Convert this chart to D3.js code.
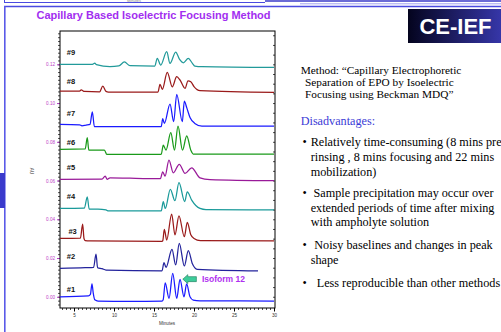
<!DOCTYPE html>
<html>
<head>
<meta charset="utf-8">
<script src="https://cdn.jsdelivr.net/npm/d3@7"></script>
<style>
  body { margin: 0; background: #fff; }
  svg { display: block; }
</style>
</head>
<body>
<svg id="chart" width="501" height="332"></svg>
<script>
// traces: [minutes, AU]
const trace1 = [[3.25,0.0000],[6.8,0.0004],[7.05,0.0012],[7.25,0.0067],[7.4,0.0020],[7.6,-0.0016],[8.0,-0.0022],[12,-0.0024],[16.0,-0.0022],[16.15,-0.0015],[16.4,0.0072],[16.88,-0.0008],[17.34,0.0121],[17.84,-0.0008],[18.25,0.0090],[18.75,0.0000],[19.08,0.0066],[19.5,0.0000],[19.9,-0.0017],[20.75,-0.0021],[30,-0.0022]];
const trace2 = [[3.25,0.0147],[6.4,0.0150],[7.45,0.0152],[7.75,0.0220],[7.95,0.0150],[8.5,0.0145],[9.0,0.0138],[16.0,0.0134],[16.25,0.0176],[16.5,0.0152],[17.25,0.0245],[17.71,0.0164],[18.16,0.0276],[18.79,0.0159],[19.29,0.0238],[19.8,0.0170],[20.4,0.0142],[28,0.0134]];
const trace3 = [[3.25,0.0301],[5.8,0.0303],[6.08,0.0375],[6.25,0.0301],[6.4,0.0290],[7,0.0288],[16.0,0.0286],[16.1,0.0290],[16.29,0.0348],[16.59,0.0293],[17.21,0.0427],[17.62,0.0319],[18.12,0.0418],[18.79,0.0310],[19.16,0.0384],[19.6,0.0320],[20.0,0.0301],[20.8,0.0290],[30,0.0288]];
const trace4 = [[3.25,0.0456],[6.3,0.0458],[6.66,0.0516],[6.9,0.0452],[8.0,0.0452],[9.0,0.0448],[9.3,0.0443],[15.9,0.0443],[16.16,0.0491],[16.41,0.0456],[17.04,0.0555],[17.62,0.0496],[18.12,0.0589],[18.84,0.0491],[19.16,0.0542],[19.71,0.0499],[20.75,0.0456],[21.5,0.0450],[30,0.0448]];
const trace5 = [[3.25,0.0606],[8.5,0.0607],[8.9,0.0623],[9.15,0.0606],[9.5,0.0614],[12,0.0612],[15.8,0.0610],[16.09,0.0645],[16.38,0.0623],[16.87,0.0706],[17.41,0.0640],[18.16,0.0684],[18.88,0.0637],[19.71,0.0666],[20.75,0.0614],[22,0.0605],[30,0.0599]];
const trace6 = [[3.25,0.0761],[6.4,0.0763],[6.66,0.0821],[6.85,0.0757],[8.8,0.0757],[9.1,0.0735],[15.9,0.0735],[16.16,0.0783],[16.5,0.0757],[17.1,0.0847],[17.56,0.0757],[18.0,0.0881],[18.56,0.0757],[19.09,0.0830],[19.6,0.0757],[19.9,0.0737],[30,0.0737]];
const trace7 = [[3.25,0.0890],[5.7,0.0888],[6.0,0.0882],[6.5,0.0886],[7.0,0.0890],[7.29,0.0955],[7.55,0.0878],[15.9,0.0878],[16.09,0.0919],[16.3,0.0895],[17.0,0.0995],[17.46,0.0904],[17.84,0.1045],[18.54,0.0904],[18.79,0.1010],[19.1,0.0975],[19.5,0.0926],[20.1,0.0895],[21,0.0881],[30,0.0881]];
const trace8 = [[3.25,0.1062],[5.7,0.1062],[5.9,0.1068],[6.3,0.1060],[8.2,0.1058],[8.6,0.1088],[9.0,0.1060],[9.3,0.1057],[15.5,0.1057],[15.75,0.1097],[16.04,0.1071],[16.66,0.1159],[17.29,0.1084],[17.84,0.1136],[18.25,0.1119],[18.88,0.1076],[19.25,0.1115],[19.6,0.1110],[20.0,0.1085],[20.75,0.1064],[30,0.1055]];
const trace9 = [[3.25,0.1200],[7.3,0.1200],[7.6,0.1206],[7.8,0.1198],[9.5,0.1188],[10.6,0.1192],[11.3,0.1212],[12.0,0.1193],[15.1,0.1191],[15.41,0.1231],[15.84,0.1196],[16.59,0.1265],[17.0,0.1205],[17.71,0.1263],[18.2,0.1225],[18.66,0.1208],[19.29,0.1231],[19.8,0.1205],[20.1,0.1191],[21,0.1188],[30,0.1184]];

const traceNames = ["#1","#2","#3","#4","#5","#6","#7","#8","#9"];
const traceColors = ["#1a1aff","#23239c","#9a1a1a","#1a9a9a","#991a99","#1a9a1a","#1a1aff","#9a1a1a","#229a9a"];
const traceData = [trace1, trace2, trace3, trace4, trace5, trace6, trace7, trace8, trace9];
// label anchors [minutes, AU]
const labelPos = [[4.1,0.0038],[4.1,0.0210],[4.3,0.0336],[4.1,0.0520],[4.1,0.0666],[4.1,0.0797],[4.1,0.0947],[4.1,0.1110],[4.1,0.1260]];

const xTicks = [5, 10, 15, 20, 25, 30];
const yTicks = [0.00, 0.02, 0.04, 0.06, 0.08, 0.10, 0.12];
const arrowFrom = [20.3, 0.0091];
const arrowTo = [18.6, 0.0091];

const methodLines = ["Method: \u201cCapillary Electrophoretic", "Separation of EPO by Isoelectric", "Focusing using Beckman MDQ\u201d"];
const bulletLines = [
  ["Relatively time-consuming (8 mins pre", "rinsing , 8 mins focusing and 22 mins", "mobilization)"],
  ["Sample precipitation may occur over", "extended periods of time after mixing", "with ampholyte solution"],
  ["Noisy baselines and changes in peak", "shape"],
  ["Less reproducible than other methods"]
];

const svg = d3.select('#chart');

// slide decorations
const deco = svg.append('g');
deco.append('line').attr('x1', 4.5).attr('y1', 0).attr('x2', 4.5).attr('y2', 3).attr('stroke', '#4a4ae0');
deco.append('line').attr('x1', 4).attr('y1', 2.5).attr('x2', 265).attr('y2', 2.5).attr('stroke', '#4a4ae0');
deco.append('line').attr('x1', 265).attr('y1', 1).attr('x2', 501).attr('y2', 1).attr('stroke', '#3a3ac8').attr('stroke-width', 1.5);
deco.append('line').attr('x1', 300).attr('y1', 3.8).attr('x2', 501).attr('y2', 3.8).attr('stroke', '#a0a0f0');
deco.append('line').attr('x1', 4).attr('y1', 6.5).attr('x2', 501).attr('y2', 6.5).attr('stroke', '#4a4ae0').attr('stroke-width', 1.3);
deco.append('line').attr('x1', 4.8).attr('y1', 6).attr('x2', 4.8).attr('y2', 332).attr('stroke', '#5a5ae8').attr('stroke-width', 1.6);
deco.append('rect').attr('x', 0).attr('y', 173).attr('width', 5).attr('height', 35).attr('fill', '#3a3acc');
deco.append('text').attr('x', 127).attr('y', 2).attr('font-family', 'Liberation Sans, Arial').attr('font-size', 4).attr('fill', '#888').text('Minutes');

svg.append('text')
  .attr('x', 153.5).attr('y', 19)
  .attr('text-anchor', 'middle')
  .attr('font-family', 'Liberation Sans, Arial, sans-serif')
  .attr('font-weight', 'bold').attr('font-size', 11)
  .attr('fill', '#a22ef0')
  .text('Capillary Based Isoelectric Focusing Method');

// CE-IEF badge
const defs = svg.append('defs');
const grad = defs.append('linearGradient').attr('id', 'badge');
grad.append('stop').attr('offset', '0%').attr('stop-color', '#04041e');
grad.append('stop').attr('offset', '100%').attr('stop-color', '#3636a8');
svg.append('rect').attr('x', 408).attr('y', 9).attr('width', 93).attr('height', 34).attr('fill', 'url(#badge)');
svg.append('text')
  .attr('x', 455.5).attr('y', 33.5)
  .attr('text-anchor', 'middle')
  .attr('font-family', 'Liberation Sans, Arial, sans-serif')
  .attr('font-weight', 'bold').attr('font-size', 22)
  .attr('fill', '#fff')
  .text('CE-IEF');

// right text block
const serif = 'Liberation Serif, Times New Roman, serif';
const txt = svg.append('g').attr('font-family', serif).attr('font-size', 11.3).attr('fill', '#000');
methodLines.forEach(function(s, i) {
  txt.append('text').attr('x', i === 0 ? 300.7 : 305).attr('y', 74 + i * 12).text(s);
});

const dis = svg.append('g').attr('font-family', serif).attr('font-size', 12.2).attr('fill', '#000');
dis.append('text').attr('x', 300.7).attr('y', 125).attr('fill', '#3b3bd6').text('Disadvantages:');

const bulletY = [146.3, 197, 249, 287];
const bulletX = [310.7, 313.5, 314.3, 316.7];
const lineGap = 14.6;
bulletLines.forEach(function(lines, i) {
  dis.append('text').attr('x', 302.5).attr('y', bulletY[i]).text('\u2022');
  lines.forEach(function(line, j) {
    dis.append('text')
      .attr('x', j === 0 ? bulletX[i] : 310.7)
      .attr('y', bulletY[i] + j * lineGap)
      .text(line);
  });
});

// plot
const x = d3.scaleLinear().domain([3.25, 30.125]).range([60, 275]);
const y = d3.scaleLinear().domain([-0.0058, 0.1372]).range([308, 31]);

const plot = svg.append('g');

const minorY = d3.range(-0.004, 0.1365, 0.002);
plot.append('g')
  .attr('transform', 'translate(60,0)')
  .call(d3.axisLeft(y).tickValues(minorY).tickSize(2).tickFormat(''))
  .call(g => g.select('.domain').remove())
  .selectAll('line').attr('stroke', '#000').attr('stroke-width', 0.7);

plot.append('g')
  .attr('transform', 'translate(275,0)')
  .call(d3.axisRight(y).tickValues(d3.range(0, 0.1365, 0.005)).tickSize(-2).tickFormat(''))
  .call(g => g.select('.domain').remove())
  .selectAll('line').attr('stroke', '#000').attr('stroke-width', 0.7);

const yAxis = plot.append('g')
  .attr('transform', 'translate(60,0)')
  .call(d3.axisLeft(y).tickValues(yTicks).tickSize(3).tickPadding(2).tickFormat(d3.format('.2f')));
yAxis.select('.domain').remove();
yAxis.selectAll('line').attr('stroke', '#b03cc0');
yAxis.selectAll('text')
  .attr('font-family', 'Liberation Sans, Arial')
  .attr('font-size', 4.6)
  .attr('fill', '#c040c8');

plot.append('g')
  .attr('transform', 'translate(0,308)')
  .call(d3.axisBottom(x).tickValues(d3.range(3.5, 30.1, 0.5)).tickSize(2).tickFormat(''))
  .call(g => g.select('.domain').remove())
  .selectAll('line').attr('stroke', '#000').attr('stroke-width', 0.7);

const xAxis = plot.append('g')
  .attr('transform', 'translate(0,308)')
  .call(d3.axisBottom(x).tickValues(xTicks).tickSize(3.5).tickPadding(2).tickFormat(d3.format('d')));
xAxis.select('.domain').remove();
xAxis.selectAll('text')
  .attr('font-family', 'Liberation Sans, Arial')
  .attr('font-size', 4.6)
  .attr('fill', '#333');

plot.append('text')
  .attr('x', 167).attr('y', 325)
  .attr('text-anchor', 'middle')
  .attr('font-family', 'Liberation Sans, Arial')
  .attr('font-size', 4.6).attr('fill', '#333')
  .text('Minutes');

plot.append('text')
  .attr('transform', 'translate(30,171) rotate(90)')
  .attr('text-anchor', 'middle')
  .attr('font-family', 'Liberation Sans, Arial')
  .attr('font-size', 4.6).attr('fill', '#333')
  .text('AU');

plot.append('rect')
  .attr('x', 60).attr('y', 31).attr('width', 215).attr('height', 277)
  .attr('fill', 'none').attr('stroke', '#000').attr('stroke-width', 1);

const line = d3.line()
  .x(d => x(d[0]))
  .y(d => y(d[1]))
  .curve(d3.curveMonotoneX);

plot.append('g')
  .selectAll('path')
  .data(traceData)
  .enter()
  .append('path')
  .attr('d', line)
  .attr('fill', 'none')
  .attr('stroke', (d, i) => traceColors[i])
  .attr('stroke-width', 1.25)
  .attr('stroke-linejoin', 'round');

plot.append('g')
  .selectAll('text')
  .data(labelPos)
  .enter()
  .append('text')
  .attr('x', d => x(d[0]))
  .attr('y', d => y(d[1]))
  .attr('dy', '0.35em')
  .attr('font-family', 'Liberation Sans, Arial')
  .attr('font-weight', 'bold')
  .attr('font-size', 7.5)
  .attr('fill', '#111')
  .text((d, i) => traceNames[i]);

// Isoform 12 arrow
const ax0 = x(arrowTo[0]), ax1 = x(arrowFrom[0]), ay = y(arrowTo[1]);
const head = 5;
plot.append('path')
  .attr('d', d3.line()([
    [ax0, ay], [ax0 + head, ay - 4.5], [ax0 + head, ay - 2.5], [ax1, ay - 2.5],
    [ax1, ay + 2.5], [ax0 + head, ay + 2.5], [ax0 + head, ay + 4.5]
  ]) + 'Z')
  .attr('fill', '#3dcc9a')
  .attr('stroke', '#1f7a5a')
  .attr('stroke-width', 0.6);

plot.append('text')
  .attr('x', ax1 + 5.5).attr('y', ay)
  .attr('dy', '0.35em')
  .attr('font-family', 'Liberation Sans, Arial')
  .attr('font-weight', 'bold')
  .attr('font-size', 8.5)
  .attr('fill', '#b030f0')
  .text('Isoform 12');
</script>
</body>
</html>
